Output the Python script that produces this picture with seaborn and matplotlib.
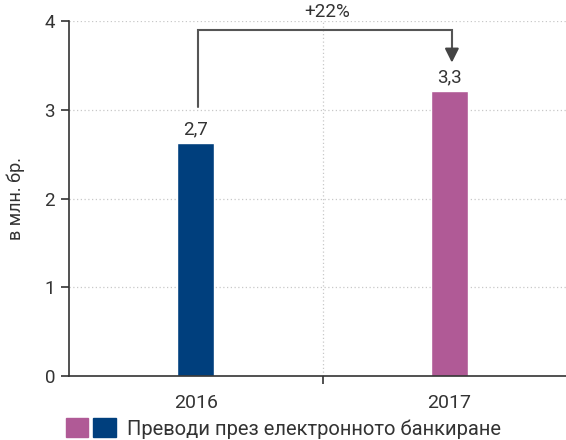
import numpy as np
import pandas as pd
import seaborn as sns
import matplotlib.pyplot as plt
from matplotlib.patches import Patch
from matplotlib.legend_handler import HandlerTuple

sns.set_theme(style="white")
plt.rcParams['font.family'] = ['Roboto', 'DejaVu Sans']

years = ["2016", "2017"]
values = [2.63, 3.21]
value_labels = ["2,7", "3,3"]
bar_colors = ["#003f7d", "#b05a96"]
change_label = "+22%"
legend_label = "Преводи през електронното банкиране"
y_label = "в млн. бр."

df = pd.DataFrame({"year": years, "value": values})

fig = plt.figure(figsize=(5.66, 4.40), dpi=100)
ax = fig.add_axes([69 / 566, 64 / 440, 497 / 566, 355 / 440])

sns.barplot(data=df, x="year", y="value", hue="year", palette=bar_colors,
            width=0.146, legend=False, ax=ax, saturation=1)

ax.set_xlim(-0.5, 1.46)
ax.set_ylim(0, 4)
ax.set_yticks([0, 1, 2, 3, 4])
ax.set_xticks([0, 1])
ax.set_xticklabels(years)
ax.set_xticks([0.5], minor=True)

# grid
for y in [1, 2, 3, 4]:
    ax.axhline(y, color="#c8c8c8", lw=0.9, ls=(0, (1, 2)), zorder=0)
ax.axvline(0.5, color="#c8c8c8", lw=0.9, ls=(0, (1, 2)), zorder=0)

for s in ["top", "right"]:
    ax.spines[s].set_visible(False)
for s in ["left", "bottom"]:
    ax.spines[s].set_color("#333333")
    ax.spines[s].set_linewidth(1.2)

ax.tick_params(axis="y", left=True, length=6, width=1.2, color="#333333",
               labelsize=13.5, labelcolor="#333333", pad=4)
ax.tick_params(axis="x", which="major", bottom=False, labelsize=14,
               labelcolor="#333333", pad=7)
ax.tick_params(axis="x", which="minor", bottom=True, length=6, width=1.2,
               color="#333333")

ax.set_xlabel("")
ax.set_ylabel(y_label, fontsize=13, color="#333333", labelpad=14)

# value labels
for i, (v, lab) in enumerate(zip(values, value_labels)):
    ax.text(i, v + 0.05, lab, ha="center", va="bottom", fontsize=13.5,
            color="#333333")

# change arrow
ax.plot([0.01, 0.01, 1.01, 1.01], [3.03, 3.9, 3.9, 3.65], color="#555555",
        lw=1.5, clip_on=False, solid_joinstyle="miter")
ax.annotate("", xy=(1.01, 3.5), xytext=(1.01, 3.66),
            arrowprops=dict(arrowstyle="-|>,head_width=0.35,head_length=0.7",
                            color="#444444", lw=1.5))
ax.text(0.52, 4.0, change_label, ha="center", va="bottom", fontsize=13.5,
        color="#333333")

# legend
handles = [(Patch(color=bar_colors[1]), Patch(color=bar_colors[0]))]
fig.legend(handles, [legend_label],
           handler_map={tuple: HandlerTuple(ndivide=None, pad=0.25)},
           loc="center left", bbox_to_anchor=(66 / 566, 11.5 / 440),
           frameon=False, borderpad=0, borderaxespad=0,
           handlelength=2.48, handleheight=1.04, fontsize=14.5,
           labelcolor="#333333", handletextpad=0.55)

fig.savefig("out.png", dpi=100)
